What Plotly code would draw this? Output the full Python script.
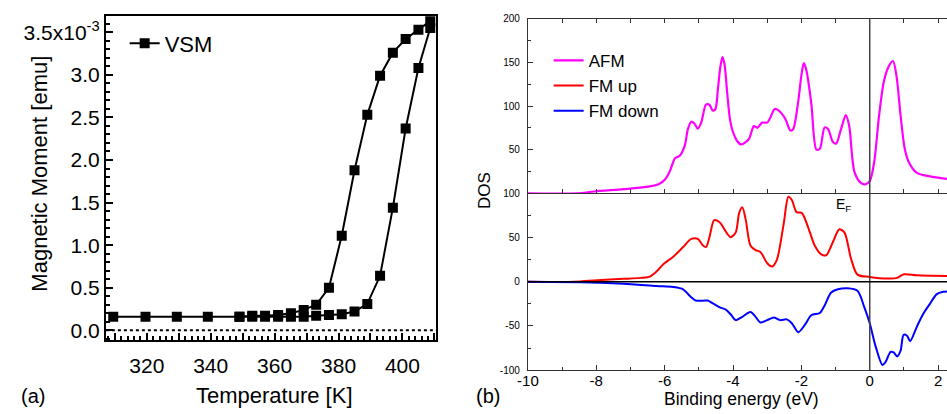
import plotly.graph_objects as go

# ---------------- Panel (a): VSM data ----------------
T_heat = [309.5, 319.6, 329.4, 339.1, 349.0, 353.0, 357.0, 361.1, 365.1, 369.1,
          373.0, 377.0, 381.0, 385.0, 389.0, 393.0, 397.0, 401.0, 405.0, 408.7]
M_heat = [0.16, 0.16, 0.16, 0.16, 0.16, 0.16, 0.16, 0.16, 0.16, 0.16,
          0.17, 0.18, 0.19, 0.22, 0.31, 0.64, 1.44, 2.37, 3.08, 3.55]
T_cool = [408.7, 405.0, 401.0, 397.0, 393.0, 389.0, 385.0, 381.0, 377.0, 373.0,
          369.1, 365.1, 361.1, 357.0, 353.0, 349.0]
M_cool = [3.63, 3.53, 3.42, 3.26, 2.99, 2.53, 1.88, 1.11, 0.50, 0.30,
          0.24, 0.20, 0.18, 0.17, 0.17, 0.16]

a_xtickvals = [310, 320, 330, 340, 350, 360, 370, 380, 390, 400, 410]
a_xticktext = ["", "320", "", "340", "", "360", "", "380", "", "400", ""]
a_ytickvals = [0, 0.5, 1.0, 1.5, 2.0, 2.5, 3.0, 3.5]
a_yticktext = ["0.0", "0.5", "1.0", "1.5", "2.0", "2.5", "3.0", "3.5x10<sup>-3</sup>"]

# ---------------- Panel (b): DOS data ----------------
afm_x = [-10, -8.55, -8.06, -7.2, -6.52, -6.18, -5.99, -5.85, -5.7, -5.56, -5.41, -5.32,
         -5.22, -5.13, -5.03, -4.93, -4.79, -4.69, -4.6, -4.52, -4.44, -4.37, -4.31, -4.25,
         -4.17, -4.09, -4.0, -3.88, -3.76, -3.54, -3.39, -3.29, -3.15, -3.0, -2.91, -2.78,
         -2.67, -2.48, -2.32, -2.24, -2.1, -2.0, -1.93, -1.85, -1.71, -1.56, -1.46, -1.32,
         -1.22, -1.08, -0.98, -0.84, -0.7, -0.6, -0.45, -0.26, -0.13, 0, 0.13, 0.27, 0.41,
         0.55, 0.68, 0.78, 0.9, 1.02, 1.14, 1.38, 1.76, 2.26]
afm_y = [0, 0, 2.2, 4.8, 7.4, 10.4, 16, 25, 40, 43, 55, 73.6,
         82, 80, 74, 81, 101.5, 101.5, 95, 96, 120, 145, 156, 148,
         115, 85, 70, 60, 56, 62, 77, 75, 81, 81, 86.6, 96.6,
         95, 86, 72, 73.6, 103, 135, 149, 140, 103, 50, 51, 75.5,
         73.6, 59, 57, 73.6, 89.6, 77, 25, 12, 10.4, 14, 36, 88, 127.5,
         145, 151.5, 135, 90, 52, 36, 23.5, 19.5, 16.5]

up_x = [-10, -8.64, -7.97, -7.2, -6.71, -6.43, -6.23, -6.04, -5.75, -5.46, -5.22, -5.03,
        -4.88, -4.79, -4.69, -4.55, -4.4, -4.16, -4.07, -3.92, -3.82, -3.73, -3.63, -3.49,
        -3.34, -3.2, -3.0, -2.86, -2.72, -2.52, -2.38, -2.28, -2.14, -1.99, -1.8, -1.61,
        -1.42, -1.27, -1.08, -0.89, -0.74, -0.55, -0.36, 0, 0.51, 0.8, 1.0, 1.38, 2.26]
up_y = [0, 0, 1.8, 3.3, 4.4, 5.9, 11.8, 19.9, 28.3, 39.3, 48.5, 48.5,
        41, 39.3, 50.4, 69.8, 67.6, 54, 50.4, 55.9, 78, 84.2, 70.6, 41,
        35.7, 33.8, 21, 17.3, 24.6, 65, 96.3, 92.6, 78.7, 78, 61.4, 41,
        30.9, 30.1, 44.8, 59.5, 55.9, 26.5, 8.1, 5.5, 3.7, 4.4, 8.5, 7.4, 6.6]

down_x = [-10, -8.16, -7.2, -6.23, -5.75, -5.46, -5.27, -5.08, -4.74, -4.6, -4.4, -4.21,
          -4.07, -3.92, -3.73, -3.49, -3.34, -3.2, -3.0, -2.81, -2.62, -2.43, -2.28, -2.09,
          -1.9, -1.71, -1.46, -1.32, -1.13, -0.93, -0.65, -0.36, -0.16, 0, 0.17, 0.37,
          0.46, 0.61, 0.7, 0.8, 0.9, 0.99, 1.09, 1.18, 1.38, 1.57, 1.76, 1.96, 2.15, 2.26]
down_y = [0, -0.7, -2.2, -4.8, -5.9, -8.5, -15.8, -21.3, -21.3, -24.3, -28.7, -31.6,
          -36.8, -43.4, -39.7, -34.2, -39.7, -46, -43.4, -40.4, -43.4, -42.6, -47, -57,
          -48.9, -37.9, -35.3, -26.8, -12.1, -8.5, -7.4, -10.3, -28.7, -47, -72.8, -94.1,
          -91, -79.4, -80, -84.5, -78.3, -60, -61, -67.3, -50.7, -36, -25, -14, -11.4, -11]

b_xtickvals = [-10, -8, -6, -4, -2, 0, 2]
b_xticktext = ["-10", "-8", "-6", "-4", "-2", "0", "2"]
b_top_yticks = [50, 100, 150, 200]
b_top_ytext = ["50", "100", "150", "200"]
b_bot_yticks = [-100, -50, 0, 50, 100]
b_bot_ytext = ["-100", "-50", "0", "50", "100"]

W, H = 947, 414
def px(x):
    return x / W
def py(y):
    return 1 - y / H

FONT = "Liberation Sans, Arial, sans-serif"
XR_B = [-10, 2.26]

fig = go.Figure()

fig.add_trace(go.Scatter(
    x=T_heat + T_cool, y=M_heat + M_cool, mode="lines+markers", name="VSM",
    line=dict(color="black", width=2),
    marker=dict(symbol="square", size=10, color="black"),
    xaxis="x", yaxis="y", legend="legend"))

fig.add_trace(go.Scatter(
    x=afm_x, y=afm_y, mode="lines", name="AFM",
    line=dict(color="#ff00ff", width=2.2, shape="spline", smoothing=0.8),
    xaxis="x2", yaxis="y2", legend="legend2"))
fig.add_trace(go.Scatter(
    x=up_x, y=up_y, mode="lines", name="FM up",
    line=dict(color="#ff0000", width=2, shape="spline", smoothing=0.8),
    xaxis="x3", yaxis="y3", legend="legend2"))
fig.add_trace(go.Scatter(
    x=down_x, y=down_y, mode="lines", name="FM down",
    line=dict(color="#0000ff", width=2, shape="spline", smoothing=0.8),
    xaxis="x4", yaxis="y3", legend="legend2"))

common = dict(showgrid=False, zeroline=False, showline=True)

fig.update_layout(
    width=W, height=H,
    margin=dict(l=0, r=0, t=0, b=0),
    paper_bgcolor="white", plot_bgcolor="white",
    font=dict(family=FONT, color="black"),
    xaxis=dict(domain=[px(96), px(430)], range=[307.2, 410.5], anchor="y",
               linecolor="black", linewidth=2, mirror=True,
               tickmode="array", tickvals=a_xtickvals, ticktext=a_xticktext,
               ticks="inside", ticklen=7, tickwidth=1.5, tickcolor="black",
               minor=dict(ticks="inside", ticklen=4, dtick=2, tick0=0, tickcolor="black"),
               tickfont=dict(size=21, family=FONT), ticklabelstandoff=6, **common),
    yaxis=dict(domain=[py(344), py(10)], range=[-0.114, 3.694], anchor="x",
               linecolor="black", linewidth=2, mirror=True,
               tickmode="array", tickvals=a_ytickvals, ticktext=a_yticktext,
               ticks="inside", ticklen=7, tickwidth=1.5, tickcolor="black",
               minor=dict(ticks="inside", ticklen=4, dtick=0.1, tick0=0, tickcolor="black"),
               tickfont=dict(size=21, family=FONT), **common),
    xaxis2=dict(domain=[px(523), 1.0], range=XR_B, anchor="y2",
                linecolor="#333", linewidth=1.2, mirror="ticks",
                showticklabels=False, ticks="inside", ticklen=4, dtick=1, tick0=0,
                tickcolor="#333", **common),
    yaxis2=dict(domain=[py(193), py(13)], range=[0, 200], anchor="x2",
                linecolor="#333", linewidth=1.2,
                tickmode="array", tickvals=b_top_yticks, ticktext=b_top_ytext,
                ticks="inside", ticklen=5, tickcolor="#333",
                minor=dict(ticks="inside", ticklen=3, dtick=25, tick0=0, tickcolor="#333"),
                tickfont=dict(size=10, family=FONT), ticklabelstandoff=5, **common),
    xaxis3=dict(domain=[px(523), 1.0], range=XR_B, anchor="y3",
                linecolor="#333", linewidth=1.2,
                tickmode="array", tickvals=b_xtickvals, ticktext=b_xticktext,
                showticklabels=False,
                ticks="inside", ticklen=5, tickcolor="#333",
                minor=dict(ticks="inside", ticklen=3, dtick=1, tick0=0, tickcolor="#333"),
                **common),
    xaxis4=dict(overlaying="x3", anchor="free", position=py(374.5), range=XR_B,
                showline=False, showgrid=False, zeroline=False, ticks="",
                tickmode="array", tickvals=b_xtickvals, ticktext=b_xticktext,
                tickfont=dict(size=15, family=FONT), ticklabeloverflow="allow"),
    yaxis3=dict(domain=[py(375), py(193)], range=[-100, 100], anchor="x3",
                linecolor="#333", linewidth=1.2,
                tickmode="array", tickvals=b_bot_yticks, ticktext=b_bot_ytext,
                ticks="inside", ticklen=5, tickcolor="#333",
                minor=dict(ticks="inside", ticklen=3, dtick=25, tick0=0, tickcolor="#333"),
                tickfont=dict(size=10, family=FONT), ticklabelstandoff=5, **common),
    legend=dict(x=px(115), y=py(17), xanchor="left", yanchor="top",
                bgcolor="rgba(0,0,0,0)", font=dict(size=22, family=FONT)),
    legend2=dict(x=px(544), y=py(38), xanchor="left", yanchor="top",
                 bgcolor="rgba(0,0,0,0)", font=dict(size=17, family=FONT),
                 tracegroupgap=0),
    showlegend=True,
)

shapes = [
    dict(type="line", xref="x domain", x0=0, x1=1, yref="y", y0=0, y1=0,
         line=dict(color="black", width=2, dash="dot")),
    dict(type="line", xref="x2", x0=0, x1=0, yref="y2", y0=0, y1=200,
         line=dict(color="#444", width=1.5)),
    dict(type="line", xref="x3", x0=0, x1=0, yref="y3", y0=-100, y1=100,
         line=dict(color="#444", width=1.5)),
    dict(type="line", xref="x3 domain", x0=0, x1=1, yref="y3", y0=0, y1=0,
         line=dict(color="black", width=1.5)),
]
fig.update_layout(shapes=shapes)

ann = [
    dict(text="Magnetic Moment [emu]", x=px(29), y=py(173), textangle=-90,
         font=dict(size=22, family=FONT)),
    dict(text="Temperature [K]", x=px(267), y=py(401), font=dict(size=22, family=FONT)),
    dict(text="(a)", x=px(22), y=py(402), font=dict(size=20, family=FONT)),
    dict(text="DOS", x=px(479), y=py(190), textangle=-90, font=dict(size=17, family=FONT)),
    dict(text="Binding energy (eV)", x=px(739), y=py(404.5), font=dict(size=17.5, family=FONT),
         borderpad=0),
    dict(text="(b)", x=px(483), y=py(402), font=dict(size=20, family=FONT)),
    dict(text="E<sub>F</sub>", x=px(842), y=py(205), font=dict(size=14, family=FONT)),
]
for a in ann:
    a.update(xref="paper", yref="paper", showarrow=False, xanchor="center", yanchor="middle")
fig.update_layout(annotations=ann)

fig.write_html(
    "out.html",
    config={"displayModeBar": False},
    post_script="document.body.style.margin='0';document.body.style.overflow='hidden';",
)
